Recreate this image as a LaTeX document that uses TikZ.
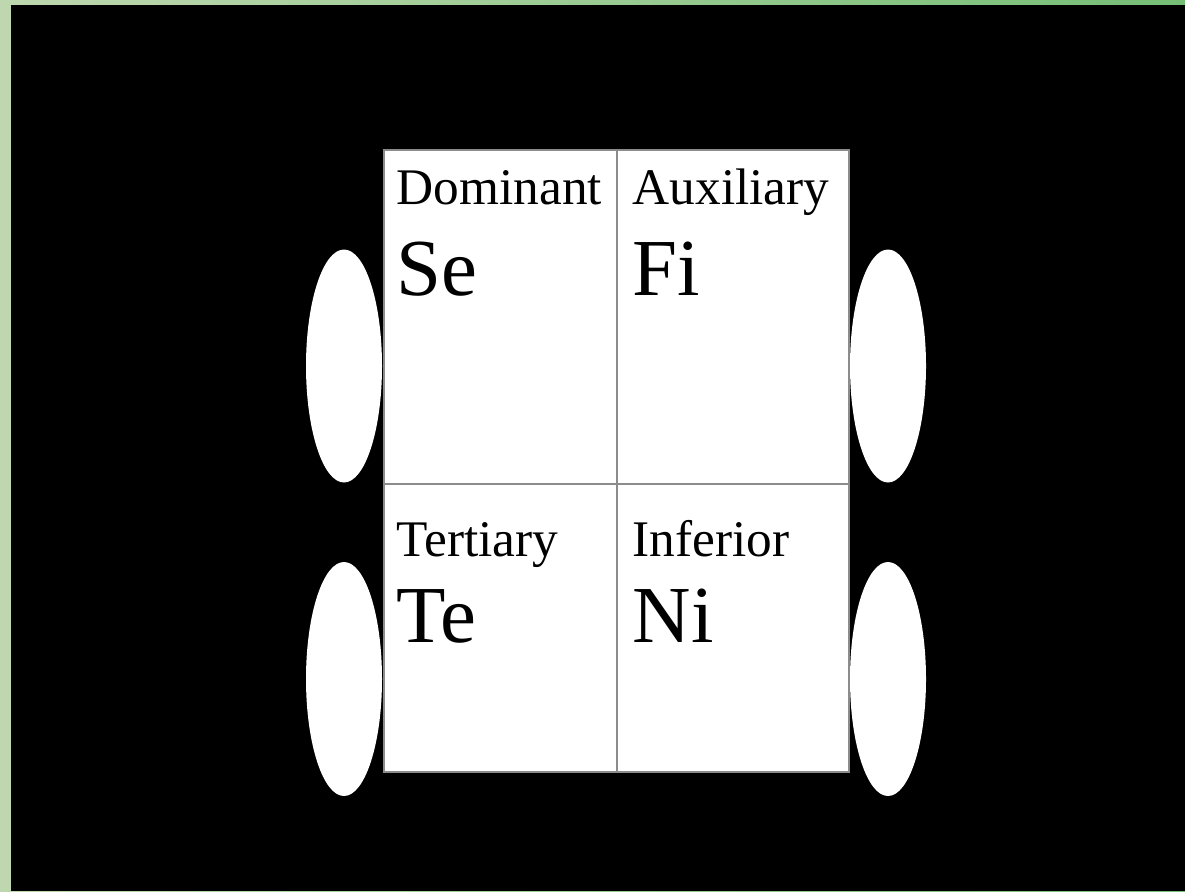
\documentclass[tikz,border=0pt]{standalone}
\usepackage{fontspec}
\setmainfont{Liberation Serif}
\definecolor{leafA}{RGB}{190,215,175}
\definecolor{leafB}{RGB}{118,190,118}
\tikzset{
  role/.style={anchor=base west,inner sep=0pt,font=\fontsize{14.6pt}{17pt}\selectfont},
  func/.style={anchor=base west,inner sep=0pt,font=\fontsize{23pt}{27pt}\selectfont},
  grid line/.style={draw=black!45,line width=0.3pt}
}
\begin{document}
\begin{tikzpicture}[x=0.01cm,y=-0.01cm]
\useasboundingbox (0,0) rectangle (1185,891);
\shade[left color=leafA,right color=leafB] (0,0) rectangle (1185,891);
\fill[black] (11,5) rectangle (1185,891);
% the four cells
\fill[white] (384,150) rectangle (849,772);
\draw[grid line] (384,150) rectangle (849,772);
\draw[grid line] (617,150)--(617,772);
\draw[grid line] (384,484)--(849,484);
% side ovals
\fill[white] (344,366) ellipse (38 and 116.5);
\fill[white] (344,679) ellipse (38 and 117);
\fill[white] (888,366) ellipse (38 and 116.5);
\fill[white] (888,679) ellipse (38 and 117);
% labels
\node[role] (dom) at (396,205) {Dominant};
\node[func] (se) at (396,295) {Se};
\node[role] (aux) at (632,205) {Auxiliary};
\node[func] (fi) at (632,295) {Fi};
\node[role] (ter) at (396,556) {Tertiary};
\node[func] (te) at (396,642) {Te};
\node[role] (inf) at (632,556) {Inferior};
\node[func] (ni) at (632,642) {Ni};
\end{tikzpicture}
\end{document}
